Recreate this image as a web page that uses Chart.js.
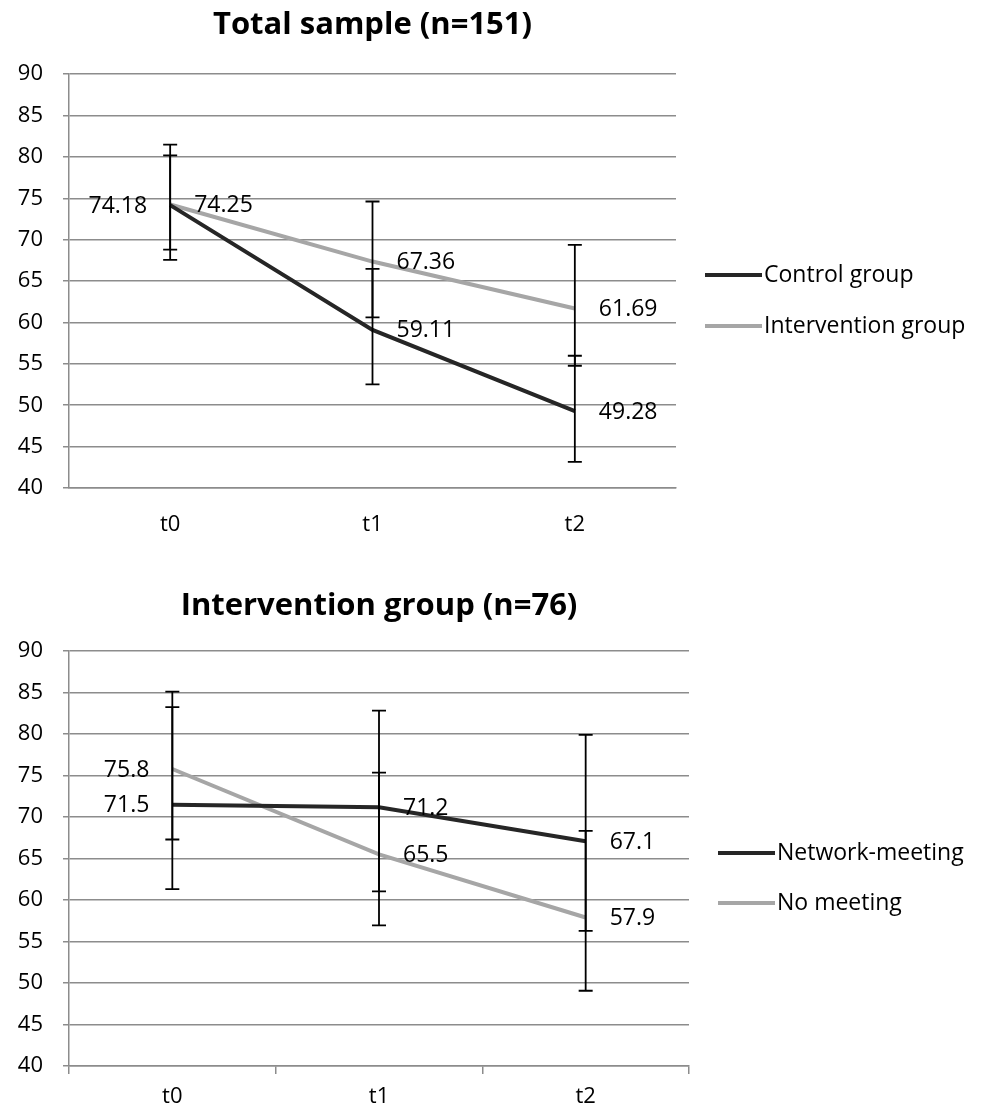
<!DOCTYPE html>
<html>
<head>
<meta charset="utf-8">
<script src="https://cdn.jsdelivr.net/npm/chart.js@4.4.0/dist/chart.umd.min.js"></script>
<style>
body { margin: 0; background: #fff; }
#wrap { position: relative; width: 989px; height: 1112px; }
.box { position: absolute; left: 0; width: 989px; height: 556px; }
</style>
</head>
<body>
<div id="wrap">
  <div class="box" style="top:0"><canvas id="totalChart" width="989" height="556"></canvas></div>
  <div class="box" style="top:556px"><canvas id="interventionChart" width="989" height="556"></canvas></div>
</div>
<script>
var categories = ['t0', 't1', 't2'];
var yTicks = [40, 90, 5]; // min, max, step

// Total sample (n=151)
var controlMean = [74.18, 59.11, 49.28];
var controlLow = [67.57, 52.51, 43.15];
var controlHigh = [81.49, 66.48, 55.98];
var interventionMean = [74.25, 67.36, 61.69];
var interventionLow = [68.81, 60.62, 54.77];
var interventionHigh = [80.19, 74.62, 69.38];

// Intervention group (n=76)
var networkMean = [71.5, 71.2, 67.1];
var networkLow = [61.33, 61.04, 56.30];
var networkHigh = [83.25, 82.84, 79.92];
var noMeetingMean = [75.8, 65.5, 57.9];
var noMeetingLow = [67.30, 56.94, 49.07];
var noMeetingHigh = [85.13, 75.37, 68.35];

var dark = '#262626';
var light = '#a6a6a6';
var gridColor = '#8c8c8c';
var font = 'Open Sans';

var errorBars = {
    id: 'errorBars',
    afterDatasetsDraw: function(chart) {
        var ctx = chart.ctx, y = chart.scales.y;
        ctx.save();
        ctx.strokeStyle = '#000';
        ctx.lineWidth = 1.8;
        chart.data.datasets.forEach(function(ds, i) {
            chart.getDatasetMeta(i).data.forEach(function(pt, j) {
                var top = y.getPixelForValue(ds.errHigh[j]);
                var bot = y.getPixelForValue(ds.errLow[j]);
                ctx.beginPath();
                ctx.moveTo(pt.x, top); ctx.lineTo(pt.x, bot);
                ctx.moveTo(pt.x - 7, top); ctx.lineTo(pt.x + 7, top);
                ctx.moveTo(pt.x - 7, bot); ctx.lineTo(pt.x + 7, bot);
                ctx.stroke();
            });
        });
        ctx.restore();
    }
};

var valueLabels = {
    id: 'valueLabels',
    afterDatasetsDraw: function(chart) {
        var ctx = chart.ctx;
        ctx.save();
        ctx.font = '23px "' + font + '"';
        ctx.fillStyle = '#000';
        ctx.textBaseline = 'middle';
        chart.data.datasets.forEach(function(ds, i) {
            chart.getDatasetMeta(i).data.forEach(function(pt, j) {
                var left = ds.labelPos[j] === 'left';
                ctx.textAlign = left ? 'right' : 'left';
                ctx.fillText(String(ds.data[j]), pt.x + (left ? -23 : 24), pt.y + 1);
            });
        });
        ctx.restore();
    }
};

var lineLegend = {
    id: 'lineLegend',
    afterDraw: function(chart, args, opts) {
        var ctx = chart.ctx;
        ctx.save();
        ctx.font = '23px "' + font + '"';
        ctx.fillStyle = '#000';
        ctx.textBaseline = 'middle';
        ctx.textAlign = 'left';
        chart.data.datasets.forEach(function(ds, i) {
            var y = opts.ys[i];
            ctx.strokeStyle = ds.borderColor;
            ctx.lineWidth = 4;
            ctx.beginPath();
            ctx.moveTo(opts.x, y);
            ctx.lineTo(opts.x + opts.len, y);
            ctx.stroke();
            ctx.fillText(ds.label, opts.x + opts.len + 2, y);
        });
        ctx.restore();
    }
};

function series(label, data, low, high, color, labelPos) {
    return {
        label: label,
        data: data,
        errLow: low,
        errHigh: high,
        labelPos: labelPos,
        borderColor: color,
        backgroundColor: color,
        borderWidth: 4,
        pointRadius: 0,
        tension: 0
    };
}

function makeChart(id, title, sets, lay) {
    var tickFont = { family: font, size: 22 };
    return new Chart(document.getElementById(id), {
        type: 'line',
        data: { labels: categories, datasets: sets },
        options: {
            responsive: false,
            animation: false,
            layout: { padding: { left: 0, right: lay.right, top: 0, bottom: 0 } },
            plugins: {
                legend: { display: false },
                tooltip: { enabled: false },
                title: {
                    display: true,
                    text: title,
                    fullSize: false,
                    color: '#000',
                    font: { family: font, size: 31, weight: 'bold' },
                    padding: { top: lay.titleTop, bottom: lay.titleBottom }
                },
                lineLegend: lay.legend
            },
            scales: {
                x: {
                    offset: true,
                    grid: {
                        display: true,
                        drawOnChartArea: false,
                        drawTicks: lay.xTicks,
                        offset: true,
                        tickLength: 8,
                        color: gridColor,
                        lineWidth: 1.5
                    },
                    border: { display: true, color: gridColor, width: 1.5 },
                    ticks: { color: '#000', font: tickFont, padding: lay.xPad },
                    afterFit: function(s) { s.height = lay.xHeight; }
                },
                y: {
                    min: yTicks[0],
                    max: yTicks[1],
                    ticks: { stepSize: yTicks[2], color: '#000', font: tickFont, padding: 20 },
                    grid: { color: gridColor, lineWidth: 1.5, tickLength: 6 },
                    border: { color: gridColor, width: 1.5 },
                    afterFit: function(s) { s.width = 69; }
                }
            }
        },
        plugins: [errorBars, valueLabels, lineLegend]
    });
}

makeChart('totalChart', 'Total sample (n=151)', [
    series('Control group', controlMean, controlLow, controlHigh, dark, ['left', 'right', 'right']),
    series('Intervention group', interventionMean, interventionLow, interventionHigh, light, ['right', 'right', 'right'])
], {
    right: 313, titleTop: 7, titleBottom: 30, xTicks: false, xPad: 24, xHeight: 68,
    legend: { x: 705, len: 57, ys: [275, 326] }
});

makeChart('interventionChart', 'Intervention group (n=76)', [
    series('Network-meeting', networkMean, networkLow, networkHigh, dark, ['left', 'right', 'right']),
    series('No meeting', noMeetingMean, noMeetingLow, noMeetingHigh, light, ['left', 'right', 'right'])
], {
    right: 300, titleTop: 32, titleBottom: 26, xTicks: true, xPad: 10, xHeight: 46,
    legend: { x: 718, len: 57, ys: [297, 347] }
});
</script>
</body>
</html>
